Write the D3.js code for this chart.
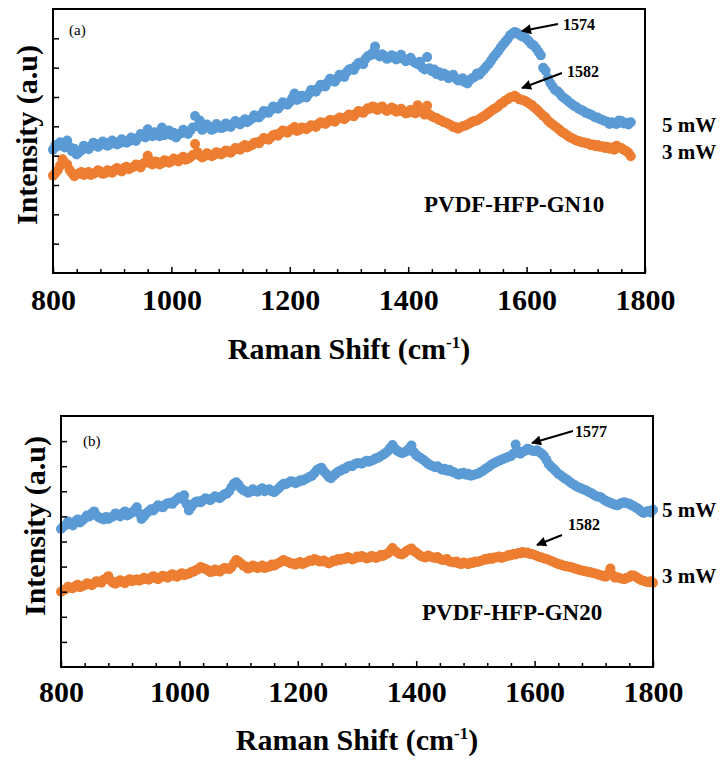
<!DOCTYPE html>
<html>
<head>
<meta charset="utf-8">
<script src="https://cdn.jsdelivr.net/npm/d3@7"></script>
<style>
  body { margin: 0; background: #fff; }
  svg { display: block; }
  text { font-family: "Liberation Serif", "Times New Roman", serif; fill: #000; }
  .bold { font-weight: bold; }
</style>
</head>
<body>
<div id="chart"></div>
<script>
// Raman spectra, PVDF-HFP-GN10 (a) and PVDF-HFP-GN20 (b), [shift cm-1, intensity a.u.]
var blueA = [[800,420],[804,436],[808,432],[812,446],[816,440],[820,428],[824,452],[828,430],[832,415],[836,424],
  [840,404],[844,412],[848,418],[852,434],[856,428],[860,422],[864,432],[868,444],[872,440],[876,430],
  [880,436],[884,448],[888,444],[892,434],[896,438],[900,452],[904,446],[908,438],[912,442],[916,456],
  [920,450],[924,444],[928,448],[932,462],[936,456],[940,450],[944,462],[948,474],[952,470],[956,462],
  [960,490],[964,472],[968,466],[972,480],[976,474],[980,466],[984,496],[988,470],[992,478],[996,486],
  [1000,470],[1004,478],[1008,462],[1012,472],[1016,476],[1020,488],[1024,480],[1028,474],[1032,486],[1036,496],
  [1040,535],[1044,500],[1048,520],[1052,488],[1056,494],[1060,506],[1064,498],[1068,488],[1072,492],[1076,508],
  [1080,502],[1084,494],[1088,496],[1092,510],[1096,504],[1100,498],[1104,508],[1108,518],[1112,512],[1116,506],
  [1120,516],[1124,524],[1128,514],[1132,520],[1136,526],[1140,538],[1144,532],[1148,530],[1152,540],[1156,552],
  [1160,548],[1164,546],[1168,556],[1172,568],[1176,562],[1180,560],[1184,570],[1188,582],[1192,578],[1196,574],
  [1200,582],[1204,596],[1208,612],[1212,590],[1216,594],[1220,604],[1224,600],[1228,598],[1232,610],[1236,624],
  [1240,622],[1244,618],[1248,630],[1252,642],[1256,640],[1260,636],[1264,650],[1268,662],[1272,656],[1276,652],
  [1280,664],[1284,676],[1288,672],[1292,668],[1296,684],[1300,694],[1304,696],[1308,692],[1312,706],[1316,716],
  [1320,718],[1324,712],[1328,730],[1332,740],[1336,742],[1340,750],[1344,772],[1348,744],[1352,738],[1356,746],
  [1360,740],[1364,730],[1368,734],[1372,742],[1376,738],[1380,728],[1384,736],[1388,744],[1392,730],[1396,722],
  [1400,726],[1404,734],[1408,722],[1412,716],[1416,712],[1420,720],[1424,700],[1428,694],[1432,736],[1436,698],
  [1440,688],[1444,694],[1448,678],[1452,684],[1456,672],[1460,680],[1464,676],[1468,664],[1472,670],[1476,676],
  [1480,664],[1484,656],[1488,656],[1492,664],[1496,650],[1500,646],[1504,658],[1508,664],[1512,668],[1516,680],
  [1520,676],[1524,686],[1528,694],[1532,704],[1536,712],[1540,724],[1544,736],[1548,746],[1552,756],[1556,768],
  [1560,778],[1564,788],[1568,798],[1572,810],[1576,816],[1580,822],[1584,818],[1588,812],[1592,806],[1596,808],
  [1600,798],[1604,790],[1608,780],[1612,776],[1616,766],[1620,754],[1624,742],[1628,700],[1632,690],[1636,664],
  [1640,648],[1644,636],[1648,624],[1652,620],[1656,612],[1660,602],[1664,596],[1668,590],[1672,582],[1676,576],
  [1680,570],[1684,566],[1688,560],[1692,556],[1696,552],[1700,546],[1704,544],[1708,540],[1712,536],[1716,530],
  [1720,530],[1724,524],[1728,522],[1732,518],[1736,516],[1740,508],[1744,514],[1748,510],[1752,508],[1756,520],
  [1760,518],[1764,510],[1768,512],[1772,506],[1776,514]];
var orangeA = [[800,332],[804,340],[808,350],[812,366],[816,388],[820,376],[824,370],[828,352],[832,340],[836,330],
  [840,336],[844,340],[848,344],[852,334],[856,338],[860,344],[864,334],[868,338],[872,342],[876,350],
  [880,346],[884,338],[888,340],[892,350],[896,348],[900,342],[904,352],[908,358],[912,350],[916,346],
  [920,358],[924,362],[928,354],[932,358],[936,362],[940,370],[944,366],[948,360],[952,372],[956,378],
  [960,400],[964,374],[968,370],[972,380],[976,378],[980,370],[984,374],[988,384],[992,382],[996,376],
  [1000,380],[1004,390],[1008,386],[1012,380],[1016,390],[1020,396],[1024,386],[1028,390],[1032,394],[1036,402],
  [1040,440],[1044,412],[1048,400],[1052,394],[1056,398],[1060,408],[1064,404],[1068,398],[1072,402],[1076,412],
  [1080,408],[1084,404],[1088,410],[1092,418],[1096,414],[1100,410],[1104,418],[1108,426],[1112,424],[1116,420],
  [1120,430],[1124,436],[1128,428],[1132,432],[1136,436],[1140,444],[1144,446],[1148,442],[1152,452],[1156,460],
  [1160,458],[1164,454],[1168,462],[1172,470],[1176,472],[1180,468],[1184,478],[1188,486],[1192,482],[1196,478],
  [1200,486],[1204,492],[1208,498],[1212,484],[1216,488],[1220,496],[1224,494],[1228,490],[1232,496],[1236,504],
  [1240,502],[1244,498],[1248,508],[1252,514],[1256,512],[1260,508],[1264,516],[1268,522],[1272,520],[1276,516],
  [1280,524],[1284,530],[1288,528],[1292,524],[1296,532],[1300,540],[1304,538],[1308,534],[1312,544],[1316,552],
  [1320,550],[1324,546],[1328,554],[1332,562],[1336,560],[1340,568],[1344,564],[1348,556],[1352,562],[1356,568],
  [1360,558],[1364,552],[1368,556],[1372,564],[1376,560],[1380,550],[1384,554],[1388,560],[1392,550],[1396,544],
  [1400,546],[1404,556],[1408,552],[1412,544],[1416,572],[1420,550],[1424,548],[1428,540],[1432,570],[1436,540],
  [1440,534],[1444,530],[1448,528],[1452,522],[1456,520],[1460,514],[1464,512],[1468,508],[1472,504],[1476,498],
  [1480,498],[1484,492],[1488,496],[1492,500],[1496,502],[1500,506],[1504,510],[1508,516],[1512,518],[1516,520],
  [1520,524],[1524,530],[1528,534],[1532,540],[1536,546],[1540,552],[1544,558],[1548,562],[1552,568],[1556,576],
  [1560,580],[1564,588],[1568,592],[1572,598],[1576,600],[1580,604],[1584,598],[1588,592],[1592,590],[1596,588],
  [1600,584],[1604,578],[1608,574],[1612,566],[1616,560],[1620,552],[1624,544],[1628,536],[1632,530],[1636,520],
  [1640,512],[1644,506],[1648,500],[1652,494],[1656,488],[1660,480],[1664,476],[1668,470],[1672,464],[1676,460],
  [1680,456],[1684,452],[1688,450],[1692,446],[1696,446],[1700,442],[1704,442],[1708,436],[1712,438],[1716,432],
  [1720,436],[1724,430],[1728,432],[1732,426],[1736,430],[1740,424],[1744,428],[1748,420],[1752,434],[1756,428],
  [1760,426],[1764,420],[1768,416],[1772,410],[1776,398]];
var blueB = [[800,550],[804,560],[808,566],[812,580],[816,572],[820,564],[824,580],[828,588],[832,576],[836,584],
  [840,592],[844,604],[848,600],[852,612],[856,620],[860,604],[864,596],[868,592],[872,588],[876,598],
  [880,590],[884,596],[888,600],[892,612],[896,606],[900,600],[904,612],[908,620],[912,604],[916,610],
  [920,616],[924,624],[928,636],[932,612],[936,590],[940,600],[944,612],[948,620],[952,628],[956,624],
  [960,634],[964,644],[968,640],[972,636],[976,646],[980,652],[984,654],[988,650],[992,660],[996,668],
  [1000,676],[1004,670],[1008,684],[1012,650],[1016,624],[1020,638],[1024,650],[1028,658],[1032,660],[1036,656],
  [1040,664],[1044,672],[1048,668],[1052,664],[1056,672],[1060,680],[1064,676],[1068,672],[1072,680],[1076,688],
  [1080,690],[1084,700],[1088,716],[1092,730],[1096,736],[1100,726],[1104,712],[1108,704],[1112,700],[1116,694],
  [1120,698],[1124,708],[1128,702],[1132,698],[1136,706],[1140,712],[1144,700],[1148,704],[1152,708],[1156,700],
  [1160,696],[1164,704],[1168,712],[1172,722],[1176,730],[1180,728],[1184,734],[1188,740],[1192,738],[1196,732],
  [1200,736],[1204,744],[1208,742],[1212,748],[1216,752],[1220,758],[1224,762],[1228,772],[1232,784],[1236,790],
  [1240,794],[1244,780],[1248,770],[1252,758],[1256,752],[1260,762],[1264,770],[1268,778],[1272,782],[1276,788],
  [1280,790],[1284,798],[1288,802],[1292,800],[1296,808],[1300,812],[1304,812],[1308,810],[1312,816],[1316,822],
  [1320,818],[1324,822],[1328,826],[1332,832],[1336,834],[1340,840],[1344,846],[1348,852],[1352,860],[1356,872],
  [1360,884],[1364,870],[1368,862],[1372,856],[1376,852],[1380,856],[1384,860],[1388,870],[1392,882],[1396,856],
  [1400,844],[1404,838],[1408,832],[1412,826],[1416,818],[1420,810],[1424,804],[1428,800],[1432,796],[1436,800],
  [1440,792],[1444,786],[1448,790],[1452,782],[1456,786],[1460,778],[1464,776],[1468,770],[1472,766],[1476,772],
  [1480,774],[1484,766],[1488,770],[1492,762],[1496,764],[1500,768],[1504,770],[1508,776],[1512,780],[1516,788],
  [1520,794],[1524,800],[1528,808],[1532,812],[1536,818],[1540,822],[1544,826],[1548,830],[1552,834],[1556,838],
  [1560,840],[1564,850],[1568,886],[1572,860],[1576,850],[1580,858],[1584,862],[1588,870],[1592,866],[1596,862],
  [1600,860],[1604,864],[1608,856],[1612,850],[1616,840],[1620,826],[1624,808],[1628,798],[1632,790],[1636,780],
  [1640,770],[1644,764],[1648,756],[1652,750],[1656,744],[1660,736],[1664,730],[1668,724],[1672,718],[1676,714],
  [1680,710],[1684,706],[1688,702],[1692,696],[1696,692],[1700,686],[1704,680],[1708,678],[1712,676],[1716,668],
  [1720,662],[1724,658],[1728,654],[1732,650],[1736,646],[1740,644],[1744,650],[1748,654],[1752,656],[1756,652],
  [1760,650],[1764,644],[1768,640],[1772,634],[1776,628],[1780,620],[1784,614],[1788,618],[1792,622],[1796,616],
  [1800,626]];
var orangeB = [[800,300],[804,306],[808,310],[812,320],[816,316],[820,314],[824,322],[828,328],[832,318],[836,322],
  [840,326],[844,334],[848,330],[852,326],[856,334],[860,342],[864,340],[868,336],[872,348],[876,352],
  [880,362],[884,344],[888,336],[892,332],[896,340],[900,346],[904,338],[908,334],[912,344],[916,350],
  [920,342],[924,346],[928,350],[932,344],[936,348],[940,356],[944,352],[948,348],[952,356],[956,362],
  [960,354],[964,350],[968,358],[972,364],[976,360],[980,356],[984,364],[988,370],[992,362],[996,360],
  [1000,368],[1004,374],[1008,366],[1012,370],[1016,372],[1020,378],[1024,380],[1028,386],[1032,390],[1036,398],
  [1040,394],[1044,390],[1048,386],[1052,378],[1056,380],[1060,388],[1064,384],[1068,380],[1072,388],[1076,394],
  [1080,392],[1084,390],[1088,398],[1092,412],[1096,426],[1100,420],[1104,412],[1108,404],[1112,400],[1116,392],
  [1120,396],[1124,404],[1128,400],[1132,394],[1136,398],[1140,404],[1144,394],[1148,398],[1152,400],[1156,408],
  [1160,404],[1164,410],[1168,414],[1172,420],[1176,426],[1180,420],[1184,418],[1188,412],[1192,412],[1196,408],
  [1200,414],[1204,418],[1208,410],[1212,414],[1216,418],[1220,424],[1224,422],[1228,430],[1232,426],[1236,420],
  [1240,420],[1244,424],[1248,418],[1252,412],[1256,416],[1260,424],[1264,422],[1268,430],[1272,426],[1276,432],
  [1280,430],[1284,438],[1288,434],[1292,428],[1296,432],[1300,440],[1304,436],[1308,442],[1312,438],[1316,432],
  [1320,434],[1324,442],[1328,440],[1332,434],[1336,438],[1340,446],[1344,442],[1348,448],[1352,452],[1356,462],
  [1360,474],[1364,462],[1368,456],[1372,450],[1376,448],[1380,454],[1384,462],[1388,468],[1392,472],[1396,462],
  [1400,456],[1404,448],[1408,442],[1412,438],[1416,436],[1420,444],[1424,440],[1428,436],[1432,434],[1436,438],
  [1440,430],[1444,426],[1448,426],[1452,430],[1456,420],[1460,418],[1464,416],[1468,420],[1472,412],[1476,410],
  [1480,416],[1484,412],[1488,410],[1492,416],[1496,414],[1500,420],[1504,418],[1508,422],[1512,424],[1516,430],
  [1520,428],[1524,434],[1528,430],[1532,436],[1536,436],[1540,440],[1544,434],[1548,438],[1552,440],[1556,446],
  [1560,444],[1564,450],[1568,448],[1572,454],[1576,452],[1580,458],[1584,454],[1588,456],[1592,450],[1596,450],
  [1600,446],[1604,442],[1608,438],[1612,436],[1616,432],[1620,430],[1624,426],[1628,422],[1632,418],[1636,414],
  [1640,410],[1644,408],[1648,404],[1652,402],[1656,400],[1660,398],[1664,396],[1668,392],[1672,390],[1676,386],
  [1680,384],[1684,382],[1688,380],[1692,378],[1696,376],[1700,374],[1704,372],[1708,368],[1712,366],[1716,362],
  [1720,360],[1724,370],[1728,392],[1732,366],[1736,356],[1740,358],[1744,354],[1748,352],[1752,350],[1756,356],
  [1760,358],[1764,366],[1768,364],[1772,358],[1776,352],[1780,346],[1784,344],[1788,340],[1792,338],[1796,342],
  [1800,336]];

var xTicks = [800, 1000, 1200, 1400, 1600, 1800];
var xMinor = [840, 880, 920, 960, 1040, 1080, 1120, 1160, 1240, 1280, 1320, 1360,
  1440, 1480, 1520, 1560, 1640, 1680, 1720, 1760];
var seriesNames = ["5 mW", "3 mW"];
var panelTags = ["(a)", "(b)"];
var sampleNames = ["PVDF-HFP-GN10", "PVDF-HFP-GN20"];
var peakLabels = [["1574", "1582"], ["1577", "1582"]];

var colors = ["#5b9bd5", "#ed7d31"];

var svg = d3.select("#chart").append("svg")
    .attr("width", 722)
    .attr("height", 762);

// arrow head
svg.append("defs").append("marker")
    .attr("id", "arrow")
    .attr("viewBox", "0 0 10 10")
    .attr("refX", 9).attr("refY", 5)
    .attr("markerWidth", 5.5).attr("markerHeight", 5)
    .attr("orient", "auto")
    .append("path")
    .attr("d", "M0,0 L10,5 L0,10 z")
    .attr("fill", "#000");

var panels = [
    {left: 53, right: 645, top: 9, bottom: 273, yMax: 900, data: [blueA, orangeA], pad: 16,
     tag: [69, 35], yLab: [37, 135], titleY: 359, sample: [424, 212],
     names: [[662, 132], [662, 159]],
     arrows: [{lx: 563, ly: 30, x1: 558, y1: 24, x2: 522, y2: 31},
              {lx: 567, ly: 77, x1: 562, y1: 73, x2: 522, y2: 88}]},
    {left: 61, right: 653, top: 416, bottom: 667, yMax: 1000, data: [blueB, orangeB], pad: 14,
     tag: [83, 446], yLab: [45, 526], titleY: 750, sample: [422, 620],
     names: [[662, 517], [662, 583]],
     arrows: [{lx: 575, ly: 437, x1: 573, y1: 431, x2: 532, y2: 443},
              {lx: 568, ly: 530, x1: 562, y1: 535, x2: 537, y2: 545}]}
];

panels.forEach(function(p, pi) {
    var x = d3.scaleLinear().domain([800, 1800]).range([p.left, p.right]);
    var y = d3.scaleLinear().domain([0, p.yMax]).range([p.bottom, p.top]);
    var g = svg.append("g").attr("class", "panel");

    //points
    p.data.forEach(function(series, si) {
        g.append("g").selectAll("circle")
            .data(series)
            .enter()
            .append("circle")
            .attr("cx", function(d) { return x(d[0]); })
            .attr("cy", function(d) { return y(d[1]); })
            .attr("r", 5)
            .style("fill", colors[si]);
    });

    //minor x ticks
    g.append("g")
        .attr("transform", "translate(0," + p.bottom + ")")
        .call(d3.axisBottom(x).tickValues(xMinor).tickSize(-4).tickFormat(""))
        .call(function(a) { a.select(".domain").remove(); })
        .selectAll("line").attr("stroke-width", 1.5);

    //major x ticks with labels
    var xa = g.append("g")
        .attr("transform", "translate(0," + p.bottom + ")")
        .call(d3.axisBottom(x).tickValues(xTicks).tickSize(-6).tickPadding(p.pad).tickFormat(d3.format("d")));
    xa.select(".domain").remove();
    xa.selectAll("line").attr("stroke-width", 1.5);
    xa.selectAll("text")
        .attr("class", "bold")
        .style("font-family", "'Liberation Serif', serif")
        .style("font-size", "30px");

    //y ticks, no labels
    var ya = g.append("g")
        .attr("transform", "translate(" + p.left + ",0)")
        .call(d3.axisLeft(y).tickValues(d3.range(100, p.yMax, 100)).tickSize(-6).tickFormat(""));
    ya.select(".domain").remove();
    ya.selectAll("line").attr("stroke-width", 1.5);

    //box
    g.append("rect")
        .attr("x", p.left).attr("y", p.top)
        .attr("width", p.right - p.left).attr("height", p.bottom - p.top)
        .attr("fill", "none").attr("stroke", "#000").attr("stroke-width", 2);

    g.append("text")
        .attr("x", p.tag[0]).attr("y", p.tag[1])
        .style("font-size", "15px")
        .text(panelTags[pi]);

    g.append("text")
        .attr("class", "bold")
        .attr("transform", "translate(" + p.yLab[0] + "," + p.yLab[1] + ") rotate(-90)")
        .attr("text-anchor", "middle")
        .style("font-size", "30px")
        .text("Intensity (a.u)");

    var t = g.append("text")
        .attr("class", "bold")
        .attr("x", (p.left + p.right) / 2)
        .attr("y", p.titleY)
        .attr("text-anchor", "middle")
        .style("font-size", "30px");
    t.append("tspan").text("Raman Shift (cm");
    t.append("tspan").attr("dy", -11).style("font-size", "17px").text("-1");
    t.append("tspan").attr("dy", 11).text(")");

    g.append("text")
        .attr("class", "bold")
        .attr("x", p.sample[0]).attr("y", p.sample[1])
        .style("font-size", "23px")
        .text(sampleNames[pi]);

    seriesNames.forEach(function(n, i) {
        g.append("text")
            .attr("class", "bold")
            .attr("x", p.names[i][0]).attr("y", p.names[i][1])
            .style("font-size", "21px")
            .text(n);
    });

    p.arrows.forEach(function(a, i) {
        g.append("line")
            .attr("x1", a.x1).attr("y1", a.y1)
            .attr("x2", a.x2).attr("y2", a.y2)
            .attr("stroke", "#000").attr("stroke-width", 2)
            .attr("marker-end", "url(#arrow)");
        g.append("text")
            .attr("class", "bold")
            .attr("x", a.lx).attr("y", a.ly)
            .style("font-size", "16px")
            .text(peakLabels[pi][i]);
    });
});
</script>
</body>
</html>
